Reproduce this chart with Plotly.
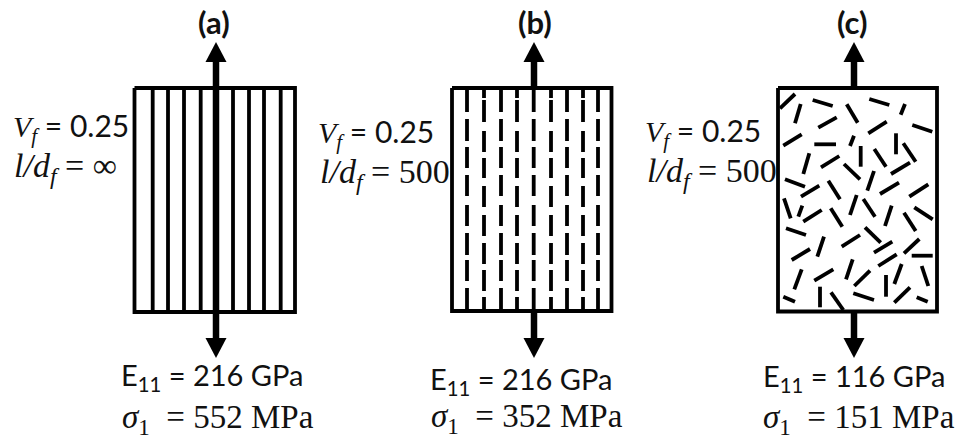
import plotly.graph_objects as go

# Panel frames: (left, right, top, bottom)
BOX_A = (134.5, 295, 88, 312)
BOX_B = (452, 611.5, 88, 311)
BOX_C = (778, 937, 88, 311.5)

# Load arrows: centre x of each panel
ARROW_X = [216, 534, 854]

# (a) continuous fibres
FIBRES_A_X = [152.7, 168, 184, 200.7, 233, 249, 264, 280.7]

# (b) aligned short fibres, two staggered column sets
FIBRES_B_ODD_X = [467, 501, 533.7, 567, 598]
FIBRES_B_EVEN_X = [484, 517, 551, 583]
FIBRES_B_ODD_Y = [(90, 112), (119, 141), (147, 168), (175, 196), (205, 226), (233, 255), (260, 281), (288, 310)]
FIBRES_B_EVEN_Y = [(90, 98), (100, 122), (131, 152), (158, 178), (186, 207), (215, 236), (243, 264), (270, 291), (297, 310)]

# (c) random short fibres (x0, y0, x1, y1)
FIBRES_C = [
    (780, 108.3, 795, 94), (795, 123.3, 800.7, 104), (812.7, 100, 832.7, 106),
    (846.7, 104.3, 857.7, 122.7), (869.3, 99, 889.3, 105), (900.7, 114.7, 905, 104),
    (818.3, 127.7, 836.7, 117.3), (868.3, 133.3, 886.7, 121.7), (912.3, 125, 932.3, 131.7),
    (783.3, 145.7, 801.7, 134.3), (814.3, 144.3, 836, 144.3), (850, 146, 854, 135.7),
    (896, 133.3, 896, 154.3), (860.7, 146, 860.7, 166.7), (874.3, 149, 886, 166.7),
    (903.3, 143.3, 915.7, 161.7), (803.3, 174, 809.3, 153.3), (821, 167.3, 839.3, 156),
    (844, 164, 860, 179.3), (867.3, 190.7, 874, 171), (891, 174, 910, 162.7),
    (785, 179.3, 805, 186.7), (801, 196.7, 819.3, 185.7), (828.3, 180.7, 840, 199.3),
    (880, 194, 899, 182.7), (909.3, 196.7, 928.3, 184.3),
    (784, 198.3, 790.7, 218.3), (798.3, 216.7, 802.3, 205.7), (803.3, 221.7, 821.7, 210),
    (830.7, 208.3, 842.3, 226.7), (850, 215, 856.7, 195), (863.3, 199, 875, 216.7),
    (885, 226, 891.7, 205.7), (904, 212.7, 915.7, 231), (914.3, 207.3, 932.7, 219.3),
    (786, 228.3, 806, 235), (841.7, 246.7, 860, 235), (865, 227.3, 880.7, 242.7),
    (791.7, 260, 810, 249), (817.3, 256.7, 824, 236.7), (874, 252.7, 892.3, 241.7),
    (904, 253.3, 919.3, 239), (911.7, 255.7, 932.7, 255.7), (878.3, 266, 896.7, 254.3),
    (794.3, 289.3, 801.7, 269.3), (814.3, 280.7, 833.3, 269.3), (846, 279.3, 852.7, 259.3),
    (854.3, 286, 870, 270.7), (894.3, 284, 901.7, 264), (921.7, 266, 928.3, 286),
    (886, 275, 886, 296.7), (820, 286.7, 820, 307.3), (831, 292.3, 843.3, 310),
    (783.3, 296.7, 795, 301.7), (853.3, 293.3, 874, 300), (894.3, 302.7, 910, 287.3),
    (916.7, 297.3, 927.7, 301.7),
]

PANEL_LABELS = ["(a)", "(b)", "(c)"]
PANEL_LABEL_X = [214, 535, 852]
VF_TEXT = "0.25"
LD_TEXT = ["∞", "500", "500"]
MODULUS = ["216 GPa", "216 GPa", "116 GPa"]
STRENGTH = ["552 MPa", "352 MPa", "151 MPa"]

# text anchors
VF_POS = [(10.5, 127), (316, 133), (643, 132)]
LD_POS = [(12, 168), (318, 174), (645, 173)]
E_POS = [(119, 376), (428, 380), (761, 377)]
S_POS = [(120, 419), (429, 418), (761, 419)]

SANS = "Lato, 'Open Sans', sans-serif"
SERIF = "'Liberation Serif', serif"
INK = "black"
HEAD_H = 20
HEAD_HALF = 10.5
ARROW_TOP = (42, 88)
ARROW_BOT = (312, 358)


def segs(items):
    xs, ys = [], []
    for x0, y0, x1, y1 in items:
        xs += [x0, x1, None]
        ys += [y0, y1, None]
    return xs, ys


def line(items, w):
    xs, ys = segs(items)
    return go.Scatter(x=xs, y=ys, mode="lines", line=dict(color=INK, width=w),
                      hoverinfo="skip", showlegend=False)


fig = go.Figure()

# fibres
a_items = [(x, BOX_A[2], x, BOX_A[3]) for x in FIBRES_A_X]
fig.add_trace(line(a_items, 3.8))
b_items = [(x, y0, x, y1) for x in FIBRES_B_ODD_X for y0, y1 in FIBRES_B_ODD_Y]
b_items += [(x, y0, x, y1) for x in FIBRES_B_EVEN_X for y0, y1 in FIBRES_B_EVEN_Y]
fig.add_trace(line(b_items, 3.8))
fig.add_trace(line(FIBRES_C, 3.8))

# frames
for l, r, t, b in [BOX_A, BOX_B, BOX_C]:
    fig.add_trace(go.Scatter(x=[l, r, r, l, l], y=[t, t, b, b, t], mode="lines",
                             line=dict(color=INK, width=3.8), hoverinfo="skip", showlegend=False))

# arrows
shafts = []
for x in ARROW_X:
    shafts.append((x, ARROW_TOP[0] + HEAD_H - 1, x, ARROW_TOP[1]))
    shafts.append((x, ARROW_BOT[0], x, ARROW_BOT[1] - HEAD_H + 1))
shafts.append((ARROW_X[0], BOX_A[2], ARROW_X[0], BOX_A[3]))
fig.add_trace(line(shafts, 6.5))
for x in ARROW_X:
    for tip, base in [(ARROW_TOP[0], ARROW_TOP[0] + HEAD_H), (ARROW_BOT[1], ARROW_BOT[1] - HEAD_H)]:
        fig.add_trace(go.Scatter(x=[x - HEAD_HALF, x + HEAD_HALF, x, x - HEAD_HALF],
                                 y=[base, base, tip, base], mode="lines", fill="toself",
                                 fillcolor=INK, line=dict(color=INK, width=0),
                                 hoverinfo="skip", showlegend=False))


def label(x, y, text, size=26, family=SANS, anchor="left"):
    fig.add_annotation(x=x, y=y, xref="x", yref="y", text=text, showarrow=False,
                       xanchor=anchor, yanchor="middle", align="left",
                       font=dict(family=family, size=size, color="#111111"))


def s(txt, fam):
    return f'<span style="font-family:{fam}">{txt}</span>'


for i in range(3):
    label(PANEL_LABEL_X[i], 22, f"<b>{PANEL_LABELS[i]}</b>", size=31, anchor="center")
    label(*VF_POS[i], f"<i>{s('V', SERIF)}<sub>{s('f', SERIF)}</sub></i> = {VF_TEXT}", size=30)
    label(*LD_POS[i], f"<i>l/d<sub>f</sub></i> = {LD_TEXT[i]}", size=34, family=SERIF)
    label(*E_POS[i], f"E<sub>11</sub> = {MODULUS[i]}", size=29)
    label(*S_POS[i], f"<i>σ</i><sub>1</sub>  = {STRENGTH[i]}", size=33, family=SERIF)

fig.update_layout(
    width=963, height=439, autosize=False,
    margin=dict(l=0, r=0, t=0, b=0),
    paper_bgcolor="white", plot_bgcolor="white", showlegend=False,
    xaxis=dict(range=[0, 963], visible=False, fixedrange=True),
    yaxis=dict(range=[439, 0], visible=False, fixedrange=True),
)

fig.write_html("out.html", config={"displayModeBar": False},
               post_script="document.body.style.margin='0';document.body.style.overflow='hidden';")
